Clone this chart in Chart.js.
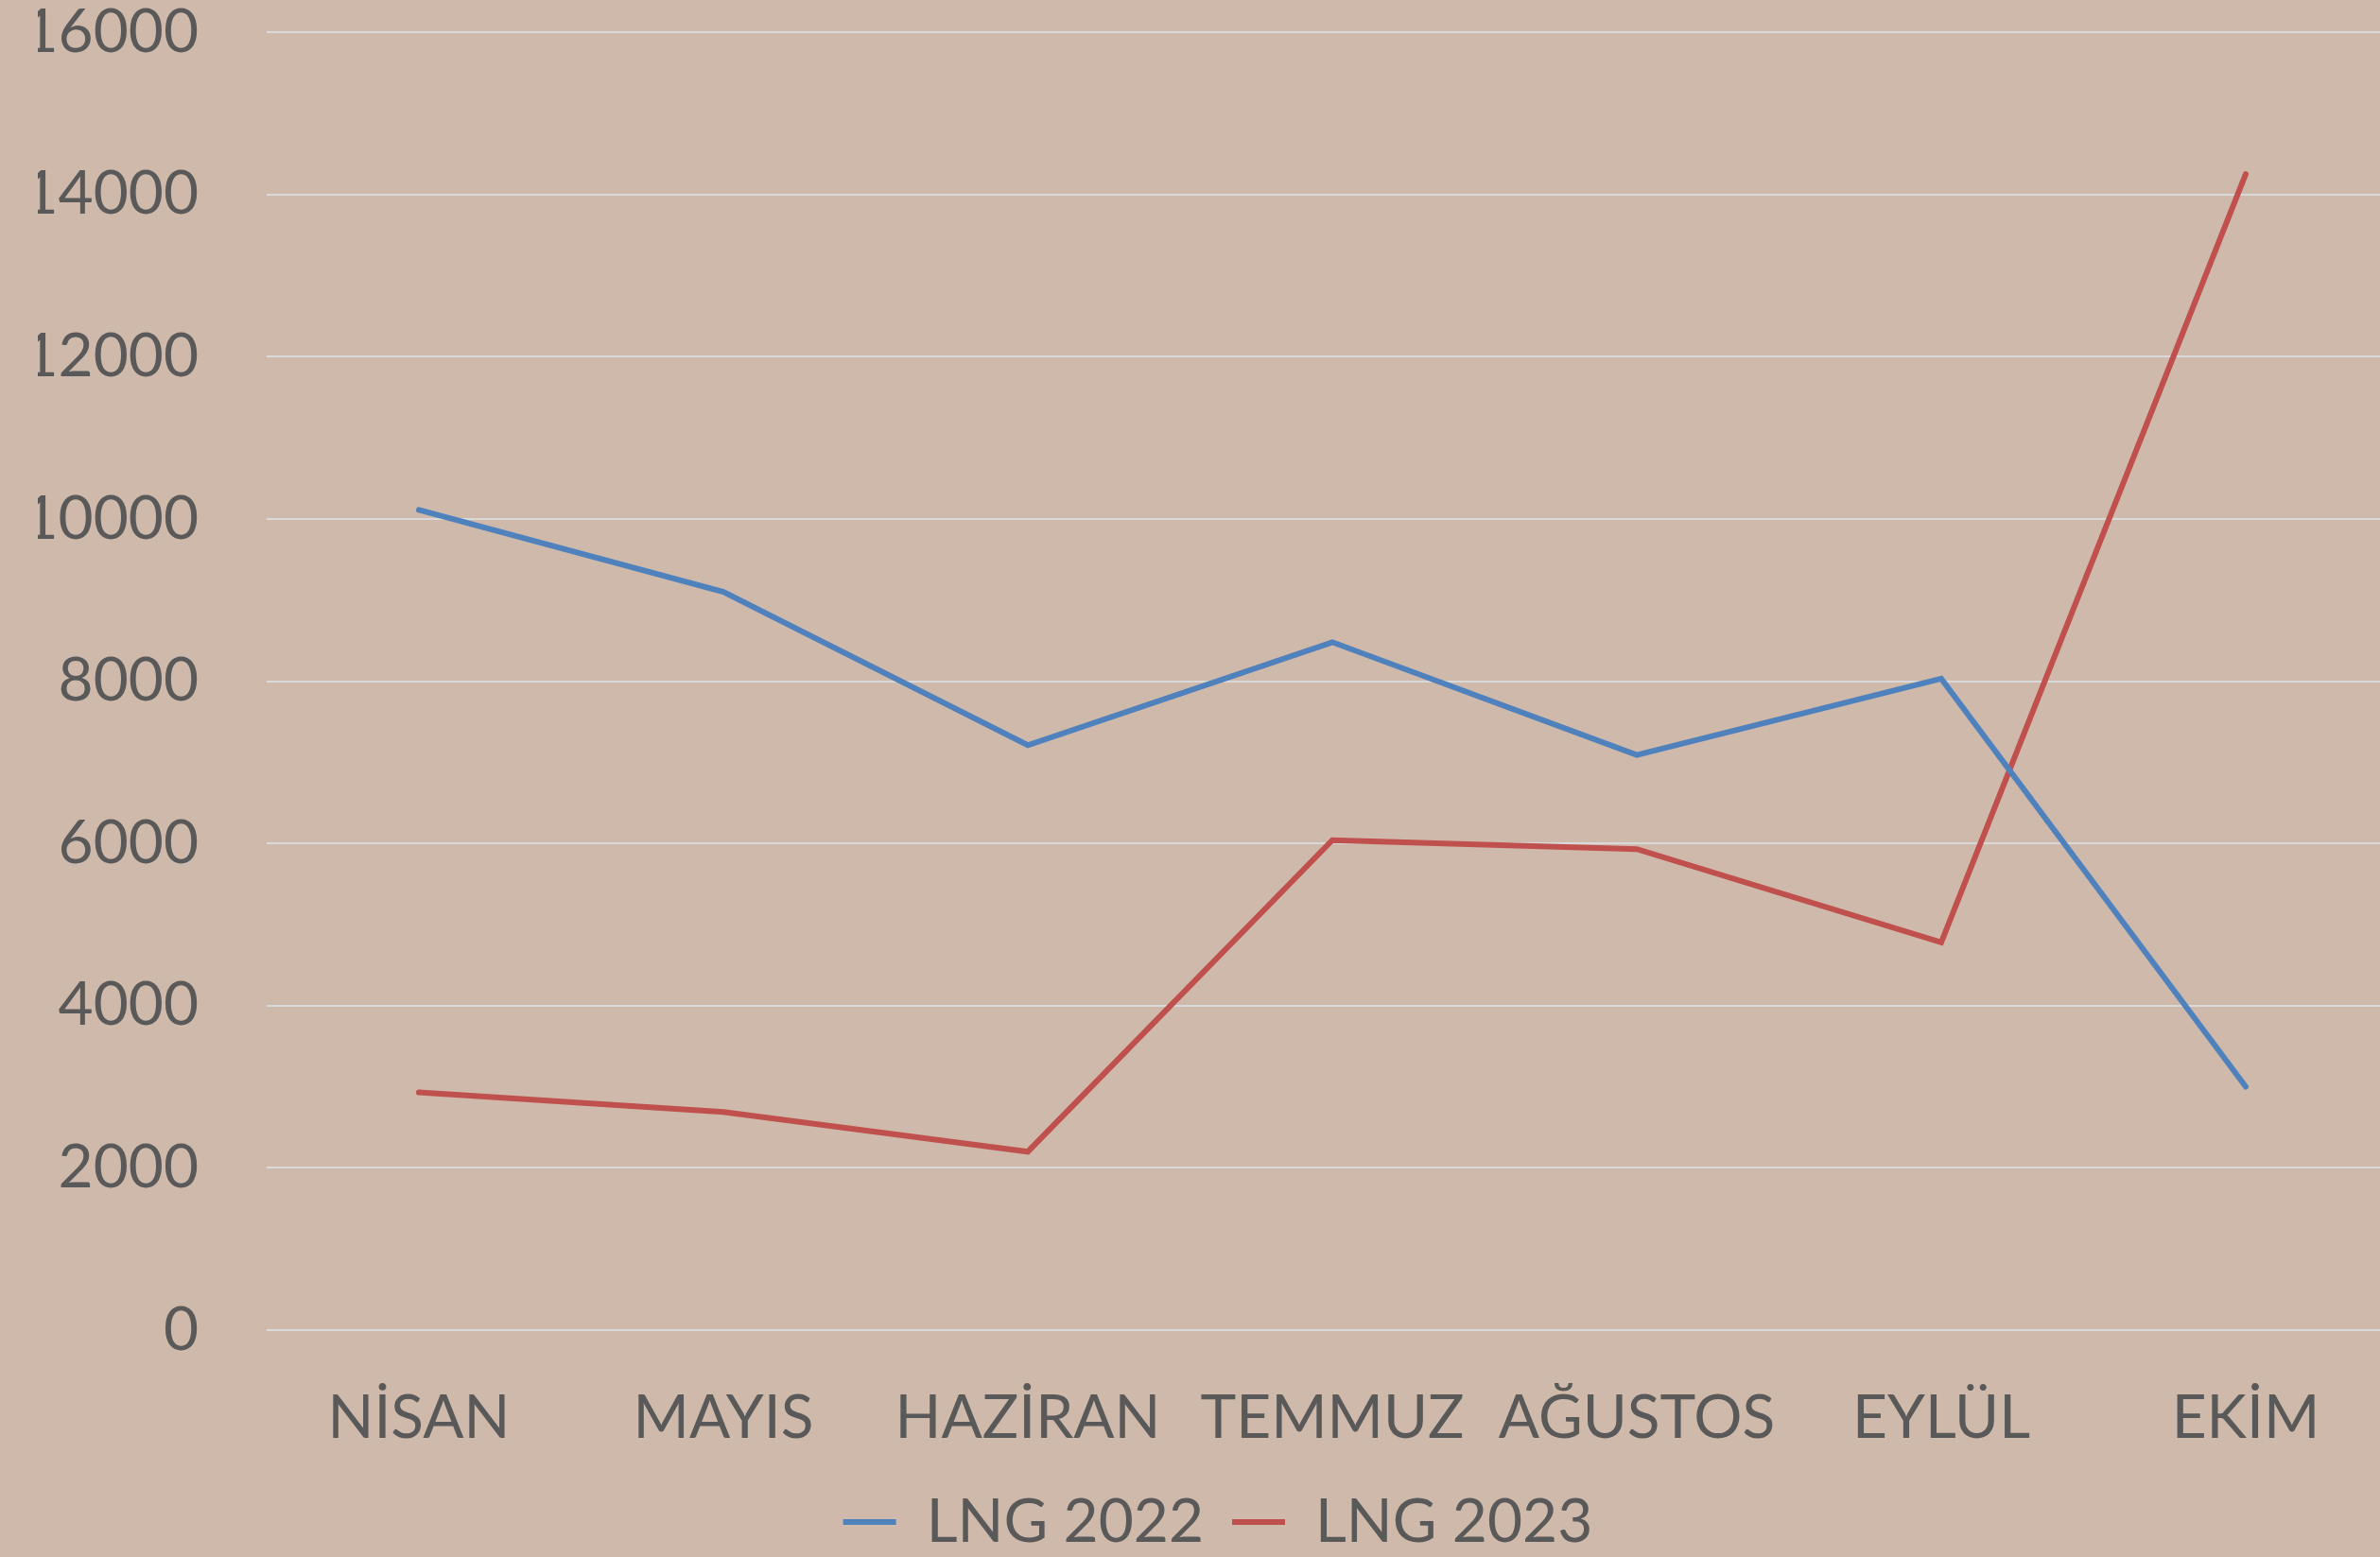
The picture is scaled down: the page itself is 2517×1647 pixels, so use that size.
<!DOCTYPE html>
<html>
<head>
<meta charset="utf-8">
<script src="https://cdn.jsdelivr.net/npm/chart.js@4/dist/chart.umd.min.js"></script>
<style>
    html, body { margin: 0; padding: 0; overflow: hidden; background: #CFB9AB; }
    #grafico { display: block; }
</style>
</head>
<body>
<canvas id="grafico" width="2536" height="1652"></canvas>
<script>
// Datos del grafico
var meses = ['NİSAN', 'MAYIS', 'HAZİRAN', 'TEMMUZ', 'AĞUSTOS', 'EYLÜL', 'EKİM'];
var lng2022 = [10110, 9100, 7210, 8480, 7090, 8030, 3000];
var lng2023 = [2930, 2690, 2200, 6040, 5930, 4780, 14250];
var etiquetasY = [0, 2000, 4000, 6000, 8000, 10000, 12000, 14000, 16000];

var colorTexto = '#595959';
var fuente = { family: 'Lato', size: 64, lineHeight: 1 };

var ctx = document.getElementById('grafico').getContext('2d');
var grafico = new Chart(ctx, {
    type: 'line',
    data: {
        labels: meses,
        datasets: [{
            label: 'LNG 2022',
            data: lng2022,
            borderColor: '#4F81BD',
            backgroundColor: '#4F81BD',
            borderWidth: 6,
            borderCapStyle: 'round',
            pointRadius: 0,
            tension: 0
        }, {
            label: 'LNG 2023',
            data: lng2023,
            borderColor: '#C0504D',
            backgroundColor: '#C0504D',
            borderWidth: 6,
            borderCapStyle: 'round',
            pointRadius: 0,
            tension: 0
        }]
    },
    options: {
        responsive: false,
        animation: false,
        layout: { padding: { top: 34, left: 40, right: 0, bottom: 0 } },
        plugins: {
            tooltip: { enabled: false },
            legend: {
                position: 'bottom',
                labels: {
                    usePointStyle: true,
                    pointStyle: 'line',
                    pointStyleWidth: 56,
                    color: colorTexto,
                    font: fuente,
                    padding: 30
                }
            }
        },
        scales: {
            x: {
                offset: true,
                // altura fija del eje para acercar la leyenda
                afterFit: function (eje) { eje.height = 141; },
                grid: { display: false, drawTicks: false },
                border: { display: false },
                ticks: { color: colorTexto, font: fuente, padding: 61, maxRotation: 0 }
            },
            y: {
                min: 0,
                max: 16000,
                afterBuildTicks: function (eje) {
                    eje.ticks = etiquetasY.map(function (v) { return { value: v }; });
                },
                afterFit: function (eje) { eje.width = 242; },
                // la separacion de las etiquetas se hace con marcas invisibles
                grid: { color: '#D9D9D9', lineWidth: 2, drawTicks: true, tickLength: 70, tickColor: 'rgba(0,0,0,0)' },
                border: { display: false },
                ticks: {
                    color: colorTexto,
                    font: fuente,
                    padding: 2,
                    callback: function (valor) { return String(valor); }
                }
            }
        }
    }
});
</script>
</body>
</html>
